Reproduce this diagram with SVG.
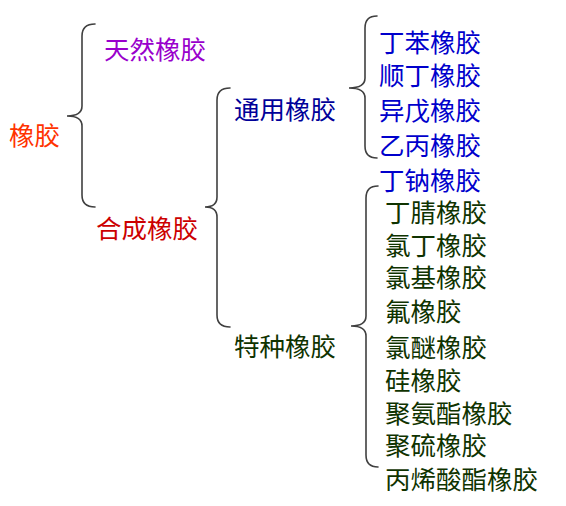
<svg xmlns="http://www.w3.org/2000/svg" width="566" height="506" viewBox="0 0 566 506">
<style>
text{font-family:"Noto Sans CJK SC","Noto Sans CJK TC",sans-serif;font-size:25.5px;dominant-baseline:central}
.brace{fill:none;stroke:#404040;stroke-width:1.6;stroke-linecap:round}
.root{fill:#FF3300}
.nat{fill:#9900CC}
.syn{fill:#CC0000}
.gen{fill:#000099}
.blue{fill:#0000CC}
.green{fill:#0F3300}
</style>
<rect width="566" height="506" fill="#fff"/>
<g id="connectors">
<path class="brace" d="M95,24 Q82,24 82,36 L82,106 Q82,116 67,116 Q82,116 82,126 L82,195 Q82,207 95,207"/>
<path class="brace" d="M230,88 Q217,88 217,100 L217,197 Q217,207 205,207 Q217,207 217,217 L217,315 Q217,327 230,327"/>
<path class="brace" d="M377,16 Q365,16 365,28 L365,78 Q365,88 349,88 Q365,88 365,98 L365,146 Q365,158 377,158"/>
<path class="brace" d="M378,186 Q366,186 366,198 L366,316 Q366,326 351,326 Q366,326 366,336 L366,455 Q366,467 378,467"/>
</g>
<g id="n-rubber"><text class="root" x="9" y="133">橡胶</text></g>
<g id="n-natural"><text class="nat" x="104" y="47">天然橡胶</text></g>
<g id="n-synthetic"><text class="syn" x="96" y="226">合成橡胶</text></g>
<g id="n-general"><text class="gen" x="234" y="107">通用橡胶</text></g>
<g id="n-special"><text class="green" x="234" y="344">特种橡胶</text></g>
<g id="n-sbr"><text class="blue" x="379" y="40">丁苯橡胶</text></g>
<g id="n-br"><text class="blue" x="379" y="73">顺丁橡胶</text></g>
<g id="n-ir"><text class="blue" x="379" y="108">异戊橡胶</text></g>
<g id="n-epr"><text class="blue" x="379" y="143">乙丙橡胶</text></g>
<g id="n-na"><text class="blue" x="379" y="178">丁钠橡胶</text></g>
<g id="n-nbr"><text class="green" x="385" y="210">丁腈橡胶</text></g>
<g id="n-cr"><text class="green" x="385" y="243">氯丁橡胶</text></g>
<g id="n-cl"><text class="green" x="385" y="275.5">氯基橡胶</text></g>
<g id="n-fkm"><text class="green" x="385" y="309">氟橡胶</text></g>
<g id="n-eco"><text class="green" x="385" y="345">氯醚橡胶</text></g>
<g id="n-si"><text class="green" x="385" y="378.5">硅橡胶</text></g>
<g id="n-pu"><text class="green" x="385" y="411">聚氨酯橡胶</text></g>
<g id="n-ps"><text class="green" x="385" y="443.5">聚硫橡胶</text></g>
<g id="n-acm"><text class="green" x="385" y="477">丙烯酸酯橡胶</text></g>
</svg>
